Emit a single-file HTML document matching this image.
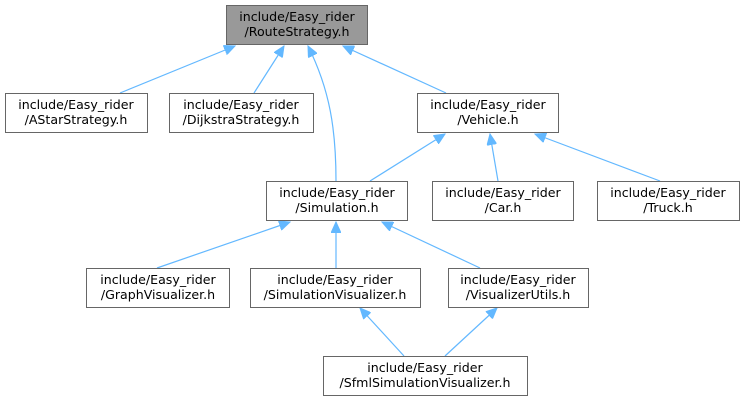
<!DOCTYPE html>
<html><head><meta charset="utf-8"><style>
html,body{margin:0;padding:0;background:#fff;}
svg{display:block;}
text{font-family:"DejaVu Sans","Liberation Sans",sans-serif;font-size:12.6px;fill:#000;text-anchor:middle;}
rect{stroke:#666;stroke-width:1;fill:#fff;}
path,line{stroke:#63b8ff;stroke-width:1.2;fill:none;}
</style></head><body>
<svg width="744" height="403" viewBox="0 0 744 403" xmlns="http://www.w3.org/2000/svg">
<defs>
<marker id="a" markerWidth="12" markerHeight="10" refX="11" refY="5" orient="auto" markerUnits="userSpaceOnUse">
<path d="M0,0 L11,5 L0,10 Z" style="fill:#63b8ff;stroke:#63b8ff;stroke-width:1"/>
</marker>
</defs>
<line x1="120" y1="93" x2="235" y2="46" marker-end="url(#a)"/>
<line x1="254" y1="93" x2="284" y2="46" marker-end="url(#a)"/>
<path d="M336,181 C336,130 330,90 308,46" marker-end="url(#a)"/>
<line x1="446" y1="93" x2="343" y2="46" marker-end="url(#a)"/>
<line x1="370" y1="181" x2="445" y2="134" marker-end="url(#a)"/>
<line x1="498" y1="181" x2="490" y2="134" marker-end="url(#a)"/>
<line x1="660" y1="181" x2="535" y2="134" marker-end="url(#a)"/>
<line x1="157" y1="268" x2="290" y2="222" marker-end="url(#a)"/>
<line x1="336" y1="268" x2="336" y2="222" marker-end="url(#a)"/>
<line x1="480" y1="268" x2="382" y2="222" marker-end="url(#a)"/>
<line x1="404" y1="356" x2="360" y2="308" marker-end="url(#a)"/>
<line x1="445" y1="356" x2="497" y2="308" marker-end="url(#a)"/>

<rect x="226.5" y="5.5" width="141" height="39" style="fill:#999"/>
<text x="297" y="21">include/Easy_rider</text><text x="297" y="36">/RouteStrategy.h</text>

<rect x="5.5" y="93.5" width="142" height="39"/>
<text x="76" y="109">include/Easy_rider</text><text x="76" y="124">/AStarStrategy.h</text>

<rect x="169.5" y="93.5" width="144" height="39"/>
<text x="241" y="109">include/Easy_rider</text><text x="241" y="124">/DijkstraStrategy.h</text>

<rect x="417.5" y="93.5" width="141" height="39"/>
<text x="488" y="109">include/Easy_rider</text><text x="488" y="124">/Vehicle.h</text>

<rect x="266.5" y="181.5" width="141" height="39"/>
<text x="337" y="197">include/Easy_rider</text><text x="337" y="212">/Simulation.h</text>

<rect x="432.5" y="181.5" width="141" height="39"/>
<text x="503" y="197">include/Easy_rider</text><text x="503" y="212">/Car.h</text>

<rect x="597.5" y="181.5" width="142" height="39"/>
<text x="668" y="197">include/Easy_rider</text><text x="668" y="212">/Truck.h</text>

<rect x="86.5" y="268.5" width="143" height="39"/>
<text x="158" y="284">include/Easy_rider</text><text x="158" y="299">/GraphVisualizer.h</text>

<rect x="250.5" y="268.5" width="170" height="39"/>
<text x="335" y="284">include/Easy_rider</text><text x="335" y="299">/SimulationVisualizer.h</text>

<rect x="448.5" y="268.5" width="140" height="39"/>
<text x="518" y="284">include/Easy_rider</text><text x="518" y="299">/VisualizerUtils.h</text>

<rect x="323.5" y="356.5" width="204" height="39"/>
<text x="425" y="372">include/Easy_rider</text><text x="425" y="387">/SfmlSimulationVisualizer.h</text>
</svg>
</body></html>
